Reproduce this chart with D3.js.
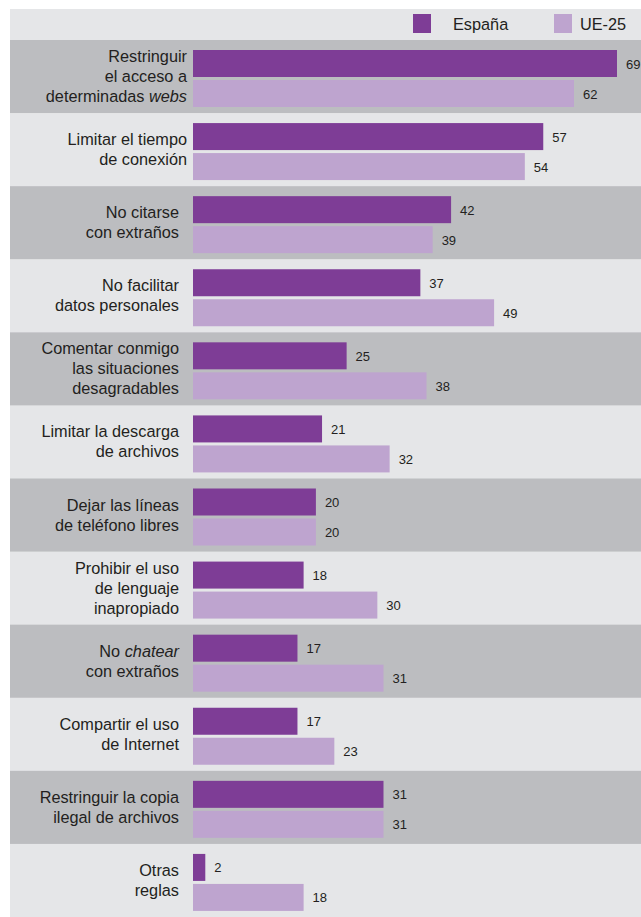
<!DOCTYPE html>
<html>
<head>
<meta charset="utf-8">
<script src="https://cdn.jsdelivr.net/npm/d3@7"></script>
<style>
  html, body { margin: 0; padding: 0; background: #ffffff; }
  svg { display: block; font-family: "Liberation Sans", Arial, sans-serif; }
</style>
</head>
<body>
<svg id="chart" width="641" height="917"></svg>
<script>
// Category labels: one string per line, *text* is set in italics
const categories = [
  ["Restringuir", "el acceso a", "determinadas *webs*"],
  ["Limitar el tiempo", "de conexión"],
  ["No citarse", "con extraños"],
  ["No facilitar", "datos personales"],
  ["Comentar conmigo", "las situaciones", "desagradables"],
  ["Limitar la descarga", "de archivos"],
  ["Dejar las líneas", "de teléfono libres"],
  ["Prohibir el uso", "de lenguaje", "inapropiado"],
  ["No *chatear*", "con extraños"],
  ["Compartir el uso", "de Internet"],
  ["Restringuir la copia", "ilegal de archivos"],
  ["Otras", "reglas"]
];
const seriesNames = ["España", "UE-25"];
const espana = [69, 57, 42, 37, 25, 21, 20, 18, 17, 17, 31, 2];
const ue25 = [62, 54, 39, 49, 38, 32, 20, 30, 31, 23, 31, 18];

const colors = { "España": "#7e3d96", "UE-25": "#bea4cf" };
const bandDark = "#bcbdc0", bandLight = "#e5e6e8", textColor = "#231f20";

const svg = d3.select("#chart");
const W = 641, H = 917;
const marginLeft = 10, plotTop = 40, barX = 193;

const rows = categories.map((c, i) => ({ lines: c, idx: i, values: [espana[i], ue25[i]] }));

const y = d3.scaleBand().domain(d3.range(categories.length)).range([plotTop, H]).paddingInner(0);
const yInner = d3.scaleBand().domain(seriesNames).range([10, 67]).paddingInner(0.1);
const x = d3.scaleLinear().domain([0, 69]).range([barX, 617]);

// Legend strip
svg.append("rect").attr("x", marginLeft).attr("y", 9).attr("width", W - marginLeft).attr("height", plotTop - 9).attr("fill", bandLight);
const legendPos = [{ sx: 413, tx: 453 }, { sx: 554, tx: 580 }];
seriesNames.forEach((s, i) => {
  svg.append("rect").attr("x", legendPos[i].sx).attr("y", 14).attr("width", 18).attr("height", 19).attr("fill", colors[s]);
  svg.append("text").attr("x", legendPos[i].tx).attr("y", 30).attr("font-size", 16.3)
    .attr("fill", textColor).text(s);
});

// Row bands
const g = svg.selectAll("g.row").data(rows).join("g").attr("class", "row")
  .attr("transform", d => `translate(0,${y(d.idx)})`);

g.append("rect").attr("x", marginLeft).attr("y", 0).attr("width", W - marginLeft)
  .attr("height", y.bandwidth() + 0.5)
  .attr("fill", d => d.idx % 2 === 0 ? bandDark : bandLight);

// Bars
g.selectAll("rect.bar").data(d => seriesNames.map((s, k) => ({ s, v: d.values[k] })))
  .join("rect").attr("class", "bar")
  .attr("x", x(0)).attr("y", d => yInner(d.s))
  .attr("width", d => x(d.v) - x(0)).attr("height", yInner.bandwidth())
  .attr("fill", d => colors[d.s]);

// Value labels
g.selectAll("text.val").data(d => seriesNames.map((s, k) => ({ s, v: d.values[k] })))
  .join("text").attr("class", "val")
  .attr("x", d => x(d.v) + 9).attr("y", d => yInner(d.s) + yInner.bandwidth() / 2 + 5)
  .attr("font-size", 13).attr("fill", textColor).text(d => d.v);

// Category labels, right-aligned (the first two blocks sit a little further right)
const lineH = 20;
g.each(function (d) {
  const n = d.lines.length;
  const cy = y.bandwidth() / 2;
  const anchorX = d.idx < 2 ? 187 : 179;
  const t = d3.select(this).append("text").attr("text-anchor", "end")
    .attr("font-size", 16.3).attr("fill", textColor);
  d.lines.forEach((line, li) => {
    const yy = cy + (li - (n - 1) / 2) * lineH + 5.5;
    const parts = line.split("*");
    let first = true;
    parts.forEach((p, pi) => {
      if (!p) return;
      const ts = t.append("tspan").text(p).attr("font-style", pi % 2 ? "italic" : null);
      if (first) { ts.attr("x", anchorX).attr("y", yy); first = false; }
    });
  });
});
</script>
</body>
</html>
